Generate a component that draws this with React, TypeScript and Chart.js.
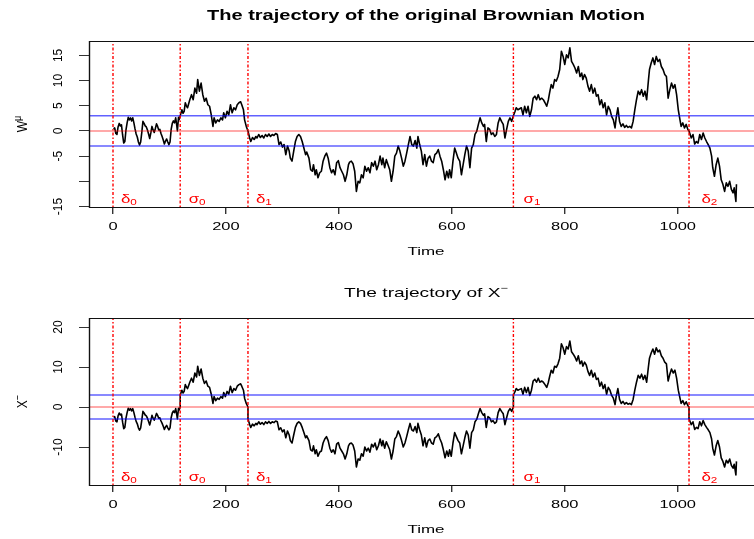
import React, { useEffect, useRef } from 'react';
import { Chart, registerables } from 'chart.js';

Chart.register(...registerables);

// ---------------- data ----------------
// sample times (duplicated at the switching times so the X- panel can jump)
const times = [
  // delta0 -> sigma0
  1, 3, 5, 7, 9, 11, 13, 15, 17, 19, 21, 23, 25, 27, 29, 31, 33, 35, 37, 39, 41, 43, 45, 47, 49, 51, 53, 55, 57, 59,
  61, 63, 65, 67, 69, 71, 73, 75, 77, 79, 81, 83, 85, 87, 89, 91, 93, 95, 97, 99, 101, 103, 105, 107, 109, 111, 113, 114, 116, 117, 119,
  // sigma0 -> delta1
  119, 122, 124, 126, 128, 130, 132, 134, 136, 139, 142, 145, 148, 150, 153, 156, 159, 162, 165, 168, 171, 174, 177, 179, 182,
  185, 188, 191, 194, 196, 199, 202, 205, 208, 211, 214, 217, 220, 223, 226, 228, 231, 233, 236, 239,
  // delta1 -> sigma1
  239, 242, 244, 247, 250, 253, 255, 258, 261, 264,
  267, 270, 273, 276, 279, 282, 285, 288, 291, 294,
  297, 300, 303, 306, 309, 312, 314, 317, 320, 323,
  326, 329, 332, 335, 338, 341, 343, 347, 350, 353,
  355, 358, 360, 363, 366, 369, 372, 375, 378, 381,
  384, 387, 390, 393, 396, 399, 402, 405, 408, 411,
  414, 417, 419, 422, 425, 428, 431, 434, 437, 440,
  443, 446, 449, 452, 455, 458, 461, 464, 467, 470,
  473, 476, 478, 481, 484, 487, 490, 493, 496, 499,
  502, 505, 508, 511, 514, 517, 520, 523, 526, 529,
  532, 535, 538, 540, 543, 546, 549, 552, 555, 558,
  561, 564, 567, 570, 573, 576, 579, 582, 585, 588,
  591, 594, 596, 599, 602, 605, 608, 611, 614, 617,
  620, 623, 626, 629, 632, 635, 638, 641, 644, 647,
  650, 653, 656, 658, 661, 664, 667, 670, 673, 676,
  679, 682, 685, 688, 691, 694, 697, 700, 703, 706,
  709,
  // sigma1 -> delta2
  709, 712, 714, 717, 720, 723, 726, 729, 732, 735,
  738, 741, 744, 747, 750, 753, 756, 759, 762, 765,
  768, 771, 773, 776, 779, 782, 785, 788, 791, 794,
  797, 800, 803, 806, 809, 812, 815, 818, 821, 824,
  827, 830, 832, 835, 838, 841, 844, 847, 850, 853,
  856, 859, 862, 865, 868, 871, 874, 877, 880, 883,
  886, 889, 891, 894, 897, 900, 903, 906, 909, 912,
  915, 918, 921, 924, 927, 930, 933, 936, 939, 942,
  945, 948, 950, 953, 956, 959, 962, 965, 968, 971,
  974, 977, 980, 983, 986, 989, 992, 995, 998, 1001,
  1004, 1006, 1009, 1012, 1015, 1018, 1020,
  // delta2 -> end
  1020, 1024, 1027, 1030, 1033, 1036, 1039, 1042, 1045, 1048, 1051, 1054, 1057, 1060, 1062,
  1065, 1068, 1071, 1074, 1077, 1080, 1083, 1086, 1089, 1092, 1095, 1098, 1100, 1103, 1104,
];

// original Brownian motion W
const wValues = [
  0.4, 0.6, -0.5, -0.7, 0.8, 1.5, 1.0, 1.2, -0.8, -2.4, -2.1, 0.2, 1.6, 2.7, 2.2, 2.6, 2.0, 2.6, 1.6, 0.4, -0.6, -1.2, -2.2, -2.8, -2.2, -0.3, 1.9, 1.5, 1.0, 0.8,
  0.2, -0.6, -1.5, -0.4, 0.9, 0.2, -0.3, 0.5, 1.4, 0.9, 0.2, 0.3, -0.5, -1.1, -1.8, -2.6, -2.0, -1.6, -2.2, -2.7, -2.2, 0.3, 1.5, 2.0, 1.6, 2.6, 1.0, 0.0, 2.7, 2.2, 3.0,
  3.0, 4.2, 3.5, 3.9, 5.6, 5.0, 4.6, 5.4, 6.2, 7.2, 6.2, 8.5, 7.5, 10.2, 7.9, 9.5, 7.2, 5.9, 6.5, 5.2, 4.9, 3.2, 0.9, 2.6, 1.6,
  2.2, 1.9, 2.6, 2.2, 3.6, 2.6, 3.9, 3.2, 5.2, 3.6, 4.6, 4.2, 5.2, 5.6, 5.8, 5.2, 4.2, 2.2, 0.9, 0.0,
  0.0, -1.4, -2.1, -1.3, -1.7, -1.1, -1.4, -0.7, -1.3, -0.9,
  -1.4, -0.7, -1.1, -0.6, -1.1, -0.7, -0.9, -0.5, -0.7, -2.7,
  -2.2, -3.2, -2.7, -4.7, -3.0, -4.0, -5.4, -6.0, -4.0, -2.1,
  -1.1, -0.7, -1.1, -2.1, -3.4, -4.7, -4.2, -5.4, -7.7, -8.0,
  -6.7, -8.7, -7.7, -9.3, -8.3, -8.0, -6.0, -5.0, -4.4, -5.4,
  -7.3, -8.3, -7.7, -8.7, -6.3, -5.9, -7.3, -8.0, -8.7, -10.0,
  -8.7, -6.7, -6.2, -6.0, -6.5, -8.0, -12.0, -10.0, -10.3, -8.7,
  -9.3, -7.0, -8.0, -7.3, -8.3, -6.3, -7.0, -6.0, -7.7, -6.7,
  -5.0, -6.7, -5.4, -7.3, -5.7, -6.7, -7.7, -10.0, -8.0, -5.0,
  -4.4, -3.0, -4.0, -5.4, -7.0, -6.0, -4.4, -2.7, -1.1, -2.7,
  -3.0, -1.9, -3.4, -1.1, -2.7, -4.0, -6.7, -4.7, -7.0, -5.4,
  -5.0, -6.0, -6.3, -4.7, -4.4, -3.7, -5.0, -6.0, -7.7, -9.7,
  -8.0, -9.3, -7.7, -9.3, -6.0, -3.4, -4.4, -5.4, -6.0, -8.7,
  -6.7, -4.7, -3.0, -4.0, -7.3, -3.4, -2.7, -0.7, -0.1, 1.3,
  2.6, 1.6, 0.9, 1.3, -2.1, 0.6, 0.3, -0.7, -0.4, -1.1,
  -0.7, 1.6, 2.6, 1.9, 1.3, -1.4, 0.3, 1.9, 2.6, 1.9,
  3.0,
  3.0, 3.9, 4.6, 4.2, 4.4, 4.6, 3.2, 4.9, 3.6, 4.9,
  2.9, 4.2, 6.5, 6.9, 6.2, 7.2, 6.2, 6.5, 6.2, 5.6,
  4.9, 6.2, 7.5, 9.2, 8.5, 10.2, 9.9, 10.8, 12.2, 15.8,
  14.8, 13.2, 15.1, 14.5, 16.5, 13.8, 13.2, 12.5, 11.5, 12.8,
  10.8, 11.5, 10.2, 11.2, 10.5, 8.9, 7.9, 9.2, 7.5, 8.5,
  6.9, 7.2, 5.2, 6.2, 4.6, 5.6, 3.2, 4.9, 4.2, 2.9,
  2.2, 0.6, 2.6, 4.6, 1.9, 0.9, 1.4, 0.7, 1.1, 0.7,
  0.9, 0.6, 1.9, 4.2, 6.2, 7.9, 7.2, 8.2, 6.9, 7.9,
  6.2, 9.9, 12.2, 13.5, 14.5, 13.2, 14.8, 13.8, 14.2, 12.8,
  12.2, 11.2, 10.8, 6.5, 8.2, 9.5, 8.5, 9.2, 7.2, 4.2,
  2.2, 0.9, 1.6, 0.6, 1.3, 0.3, 0.0,
  0.0, -1.4, -0.7, -2.6, -2.1, -2.4, -0.7, -1.7, -0.4, -1.4, -2.1, -2.7, -3.4, -5.0, -7.3,
  -9.0, -6.7, -5.4, -7.0, -9.7, -10.6, -12.0, -10.3, -11.0, -10.0, -11.6, -12.3, -11.3, -14.0, -10.6,
];

// trajectory of X-
const xMinusValues = [
  -2.6, -2.4, -3.5, -3.7, -2.2, -1.5, -2.0, -1.8, -3.8, -5.4, -5.1, -2.8, -1.4, -0.3, -0.8, -0.4, -1.0, -0.4, -1.4, -2.6, -3.6, -4.2, -5.2, -5.8, -5.2, -3.3, -1.1, -1.5, -2.0, -2.2,
  -2.8, -3.6, -4.5, -3.4, -2.1, -2.8, -3.3, -2.5, -1.6, -2.1, -2.8, -2.7, -3.5, -4.1, -4.8, -5.6, -5.0, -4.6, -5.2, -5.7, -5.2, -2.7, -1.5, -1.0, -1.4, -0.4, -2.0, -3.0, -0.3, -0.8, 0.0,
  3.0, 4.2, 3.5, 3.9, 5.6, 5.0, 4.6, 5.4, 6.2, 7.2, 6.2, 8.5, 7.5, 10.2, 7.9, 9.5, 7.2, 5.9, 6.5, 5.2, 4.9, 3.2, 0.9, 2.6, 1.6,
  2.2, 1.9, 2.6, 2.2, 3.6, 2.6, 3.9, 3.2, 5.2, 3.6, 4.6, 4.2, 5.2, 5.6, 5.8, 5.2, 4.2, 2.2, 0.9, 0.0,
  -3.0, -4.4, -5.1, -4.3, -4.7, -4.1, -4.4, -3.7, -4.3, -3.9,
  -4.4, -3.7, -4.1, -3.6, -4.1, -3.7, -3.9, -3.5, -3.7, -5.7,
  -5.2, -6.2, -5.7, -7.7, -6.0, -7.0, -8.4, -9.0, -7.0, -5.1,
  -4.1, -3.7, -4.1, -5.1, -6.4, -7.7, -7.2, -8.4, -10.7, -11.0,
  -9.7, -11.7, -10.7, -12.3, -11.3, -11.0, -9.0, -8.0, -7.4, -8.4,
  -10.3, -11.3, -10.7, -11.7, -9.3, -8.9, -10.3, -11.0, -11.7, -13.0,
  -11.7, -9.7, -9.2, -9.0, -9.5, -11.0, -15.0, -13.0, -13.3, -11.7,
  -12.3, -10.0, -11.0, -10.3, -11.3, -9.3, -10.0, -9.0, -10.7, -9.7,
  -8.0, -9.7, -8.4, -10.3, -8.7, -9.7, -10.7, -13.0, -11.0, -8.0,
  -7.4, -6.0, -7.0, -8.4, -10.0, -9.0, -7.4, -5.7, -4.1, -5.7,
  -6.0, -4.9, -6.4, -4.1, -5.7, -7.0, -9.7, -7.7, -10.0, -8.4,
  -8.0, -9.0, -9.3, -7.7, -7.4, -6.7, -8.0, -9.0, -10.7, -12.7,
  -11.0, -12.3, -10.7, -12.3, -9.0, -6.4, -7.4, -8.4, -9.0, -11.7,
  -9.7, -7.7, -6.0, -7.0, -10.3, -6.4, -5.7, -3.7, -3.1, -1.7,
  -0.4, -1.4, -2.1, -1.7, -5.1, -2.4, -2.7, -3.7, -3.4, -4.1,
  -3.7, -1.4, -0.4, -1.1, -1.7, -4.4, -2.7, -1.1, -0.4, -1.1,
  0.0,
  3.0, 3.9, 4.6, 4.2, 4.4, 4.6, 3.2, 4.9, 3.6, 4.9,
  2.9, 4.2, 6.5, 6.9, 6.2, 7.2, 6.2, 6.5, 6.2, 5.6,
  4.9, 6.2, 7.5, 9.2, 8.5, 10.2, 9.9, 10.8, 12.2, 15.8,
  14.8, 13.2, 15.1, 14.5, 16.5, 13.8, 13.2, 12.5, 11.5, 12.8,
  10.8, 11.5, 10.2, 11.2, 10.5, 8.9, 7.9, 9.2, 7.5, 8.5,
  6.9, 7.2, 5.2, 6.2, 4.6, 5.6, 3.2, 4.9, 4.2, 2.9,
  2.2, 0.6, 2.6, 4.6, 1.9, 0.9, 1.4, 0.7, 1.1, 0.7,
  0.9, 0.6, 1.9, 4.2, 6.2, 7.9, 7.2, 8.2, 6.9, 7.9,
  6.2, 9.9, 12.2, 13.5, 14.5, 13.2, 14.8, 13.8, 14.2, 12.8,
  12.2, 11.2, 10.8, 6.5, 8.2, 9.5, 8.5, 9.2, 7.2, 4.2,
  2.2, 0.9, 1.6, 0.6, 1.3, 0.3, 0.0,
  -3.0, -4.4, -3.7, -5.6, -5.1, -5.4, -3.7, -4.7, -3.4, -4.4, -5.1, -5.7, -6.4, -8.0, -10.3,
  -12.0, -9.7, -8.4, -10.0, -12.7, -13.6, -15.0, -13.3, -14.0, -13.0, -14.6, -15.3, -14.3, -17.0, -13.6,
];

const markerTimes = [0, 119, 239, 709, 1020];
const markerSymbols = ['δ', 'σ', 'δ', 'σ', 'δ'];
const markerSubscripts = ['0', '0', '1', '1', '2'];
const markerLabelTimes = [14, 134, 253, 727, 1042];

const levelValues = [3, 0, -3];
const levelColors = ['rgba(0,0,255,0.62)', 'rgba(255,0,0,0.45)', 'rgba(0,0,255,0.62)'];

const xTicks = [0, 200, 400, 600, 800, 1000];
const topYTicks = [-15, -10, -5, 0, 5, 10, 15];
const topYTickLabels = ['-15', '', '-5', '0', '5', '10', '15'];
const bottomYTicks = [-10, 0, 10, 20];
const bottomYTickLabels = ['-10', '0', '10', '20'];

// ---------------- layout ----------------
const X_MIN = -42.5;
const X_MAX = 1151;
const SX = 1.43; // horizontal text stretch of the reference
const FONT = '"Liberation Sans", Arial, Helvetica, sans-serif';

type Panel = {
  key: string;
  values: number[];
  yMin: number;
  yMax: number;
  yTicks: number[];
  yTickLabels: string[];
  title: string;
  titleBold: boolean;
  titleSup: string;
  titleWidth: number;
  titleBaseline: number;
  titleSize: number;
  padTop: number;
  xAxisHeight: number;
  height: number;
  top: number;
  yLabel: string;
  yLabelSup: string;
};

const panels: Panel[] = [
  {
    key: 'top',
    values: wValues,
    yMin: -15.1,
    yMax: 17.86,
    yTicks: topYTicks,
    yTickLabels: topYTickLabels,
    title: 'The trajectory of the original Brownian Motion',
    titleBold: true,
    titleSup: '',
    titleWidth: 438,
    titleBaseline: 19.5,
    titleSize: 14,
    padTop: 41,
    xAxisHeight: 63,
    height: 270,
    top: 0,
    yLabel: 'W',
    yLabelSup: 'μ',
  },
  {
    key: 'bottom',
    values: xMinusValues,
    yMin: -19.5,
    yMax: 22.25,
    yTicks: bottomYTicks,
    yTickLabels: bottomYTickLabels,
    title: 'The trajectory of X',
    titleBold: false,
    titleSup: '−',
    titleWidth: 164,
    titleBaseline: 26.5,
    titleSize: 13.5,
    padTop: 48,
    xAxisHeight: 54,
    height: 269,
    top: 270,
    yLabel: 'X',
    yLabelSup: '−',
  },
];

function drawText(
  ctx: CanvasRenderingContext2D,
  text: string,
  x: number,
  y: number,
  font: string,
  color: string,
  sx: number,
  align: CanvasTextAlign,
  rotate = false,
) {
  ctx.save();
  ctx.font = font;
  ctx.fillStyle = color;
  ctx.textAlign = align;
  ctx.textBaseline = 'alphabetic';
  ctx.translate(x, y);
  ctx.scale(sx, 1);
  if (rotate) ctx.rotate(-Math.PI / 2);
  ctx.fillText(text, 0, 0);
  ctx.restore();
}

function makeDecor(p: Panel) {
  return {
    id: 'decor_' + p.key,
    afterDraw(chart: any) {
      const ctx: CanvasRenderingContext2D = chart.ctx;
      const a = chart.chartArea;
      const xs = chart.scales.x;
      const ys = chart.scales.y;
      const cx = (a.left + a.right) / 2;

      // box
      ctx.save();
      ctx.strokeStyle = '#111';
      ctx.lineWidth = 1;
      ctx.strokeRect(Math.round(a.left) + 0.5, Math.round(a.top) + 0.5, Math.round(a.right - a.left), Math.round(a.bottom - a.top));
      ctx.lineWidth = 1.4;
      ctx.beginPath();
      ctx.moveTo(Math.round(a.left) + 0.5, a.top);
      ctx.lineTo(Math.round(a.left) + 0.5, a.bottom + 1);
      ctx.stroke();
      ctx.restore();

      // x tick labels
      const tickFont = `11.5px ${FONT}`;
      xs.ticks.forEach((t: any) => {
        drawText(ctx, String(t.value), xs.getPixelForValue(t.value), a.bottom + 23, tickFont, '#000', SX, 'center');
      });
      // y tick labels (rotated)
      p.yTicks.forEach((v, i) => {
        const lab = p.yTickLabels[i];
        if (!lab) return;
        drawText(ctx, lab, 62, ys.getPixelForValue(v), `12px ${FONT}`, '#000', 1.1, 'center', true);
      });

      // x axis title
      ctx.save();
      ctx.font = `11.5px ${FONT}`;
      const tw = ctx.measureText('Time').width;
      ctx.restore();
      drawText(ctx, 'Time', cx, a.bottom + 47.5, `11.5px ${FONT}`, '#000', 37 / tw, 'center');

      // main title
      const tFont = `${p.titleBold ? 'bold ' : ''}${p.titleSize}px ${FONT}`;
      const supFont = `${Math.round(p.titleSize * 0.7)}px ${FONT}`;
      ctx.save();
      ctx.font = tFont;
      const w1 = ctx.measureText(p.title).width;
      ctx.font = supFont;
      const w2 = p.titleSup ? ctx.measureText(p.titleSup).width : 0;
      ctx.restore();
      const tsx = p.titleWidth / (w1 + w2);
      const x0 = cx - ((w1 + w2) * tsx) / 2;
      drawText(ctx, p.title, x0, p.titleBaseline, tFont, '#000', tsx, 'left');
      if (p.titleSup) drawText(ctx, p.titleSup, x0 + w1 * tsx, p.titleBaseline - 5.5, supFont, '#000', tsx, 'left');

      // y axis title (rotated, with superscript)
      const yFont = `12px ${FONT}`;
      const ySupFont = `9px ${FONT}`;
      ctx.save();
      ctx.font = yFont;
      const wy1 = ctx.measureText(p.yLabel).width;
      ctx.font = ySupFont;
      const wy2 = ctx.measureText(p.yLabelSup).width;
      ctx.restore();
      const cy = (a.top + a.bottom) / 2;
      const yStart = cy + (wy1 + wy2) / 2;
      ctx.save();
      ctx.fillStyle = '#000';
      ctx.textBaseline = 'alphabetic';
      ctx.textAlign = 'left';
      ctx.translate(27, yStart);
      ctx.scale(1.25, 1);
      ctx.rotate(-Math.PI / 2);
      ctx.font = yFont;
      ctx.fillText(p.yLabel, 0, 0);
      ctx.font = ySupFont;
      ctx.fillText(p.yLabelSup, wy1, -5);
      ctx.restore();

      // greek marker labels
      markerLabelTimes.forEach((t, i) => {
        const px = xs.getPixelForValue(t);
        const by = a.bottom - 4.5;
        const mFont = `13px ${FONT}`;
        const sFont = `9px ${FONT}`;
        ctx.save();
        ctx.font = mFont;
        const mw = ctx.measureText(markerSymbols[i]).width;
        ctx.restore();
        drawText(ctx, markerSymbols[i], px, by, mFont, '#ff0000', 1.3, 'left');
        drawText(ctx, markerSubscripts[i], px + mw * 1.3, by + 2.5, sFont, '#ff0000', 1.3, 'left');
      });
    },
  };
}

function PanelChart({ p }: { p: Panel }) {
  const ref = useRef<HTMLCanvasElement | null>(null);
  useEffect(() => {
    if (!ref.current) return;
    const traj = times.map((t, i) => ({ x: t, y: p.values[i] }));
    const datasets: any[] = [
      {
        data: traj,
        borderColor: '#000',
        borderWidth: 1.6,
        borderJoinStyle: 'round',
        pointRadius: 0,
        order: 3,
      },
      ...levelValues.map((v, i) => ({
        data: [
          { x: X_MIN, y: v },
          { x: X_MAX, y: v },
        ],
        borderColor: levelColors[i],
        borderWidth: 1.5,
        pointRadius: 0,
        order: 2,
      })),
      ...markerTimes.map((t) => ({
        data: [
          { x: t, y: p.yMin },
          { x: t, y: p.yMax },
        ],
        borderColor: '#ff0000',
        borderWidth: 1.4,
        borderDash: [1.5, 2, 3, 2],
        pointRadius: 0,
        order: 1,
      })),
    ];
    const chart = new Chart(ref.current, {
      type: 'line',
      data: { datasets },
      options: {
        animation: false,
        responsive: false,
        devicePixelRatio: 1,
        events: [],
        layout: { padding: { top: p.padTop, right: 17, bottom: 0, left: 0 } },
        plugins: { legend: { display: false }, tooltip: { enabled: false }, title: { display: false } },
        scales: {
          x: {
            type: 'linear',
            min: X_MIN,
            max: X_MAX,
            afterBuildTicks: (s: any) => {
              s.ticks = xTicks.map((v) => ({ value: v }));
            },
            afterFit: (s: any) => {
              s.height = p.xAxisHeight;
            },
            ticks: { display: false },
            grid: { drawOnChartArea: false, drawTicks: true, tickLength: 7, color: '#333', lineWidth: 1.4 },
            border: { display: false },
          },
          y: {
            type: 'linear',
            min: p.yMin,
            max: p.yMax,
            afterBuildTicks: (s: any) => {
              s.ticks = p.yTicks.map((v) => ({ value: v }));
            },
            afterFit: (s: any) => {
              s.width = 89;
            },
            ticks: { display: false },
            grid: { drawOnChartArea: false, drawTicks: true, tickLength: 10, color: '#333', lineWidth: 1 },
            border: { display: false },
          },
        },
      },
      plugins: [makeDecor(p)],
    } as any);
    return () => chart.destroy();
  }, [p]);
  return (
    <canvas
      ref={ref}
      width={780}
      height={p.height}
      style={{ position: 'absolute', left: 0, top: p.top, width: 780, height: p.height, display: 'block' }}
    />
  );
}

export default function App() {
  return (
    <div
      style={{
        position: 'fixed',
        left: 0,
        top: 0,
        width: 754,
        height: 539,
        overflow: 'hidden',
        background: '#fff',
      }}
    >
      {panels.map((p) => (
        <PanelChart key={p.key} p={p} />
      ))}
    </div>
  );
}
